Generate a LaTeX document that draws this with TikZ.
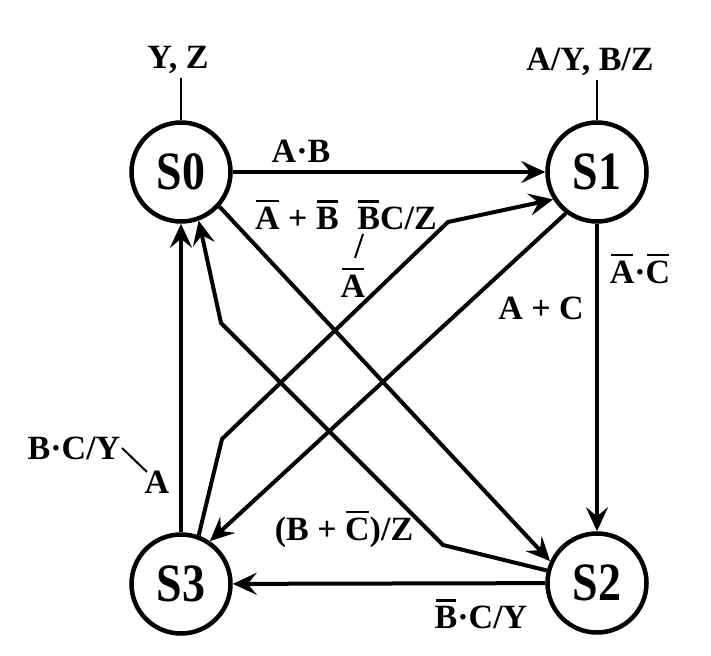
\documentclass[tikz,border=0pt]{standalone}
\usepackage{fontspec}
\setmainfont{Liberation Serif}
\newfontfamily\statefont{Liberation Serif}[FakeStretch=0.85]
\usetikzlibrary{arrows.meta}
\newcommand\ob[1]{\leavevmode\setbox0\hbox{#1}\rlap{\kern0.05\wd0\rule[\dimexpr\ht0+0.12em\relax]{0.9\wd0}{0.08em}}\box0\relax}
\tikzset{
  statenode/.style={circle,draw,line width=4.5pt,minimum size=99pt,inner sep=0pt,
    font=\statefont\bfseries\fontsize{54}{60}\selectfont},
  lbl/.style={anchor=base,inner sep=0pt,font=\bfseries\fontsize{34}{40}\selectfont},
  edge/.style={line width=4pt,-{Stealth[length=24pt,width=22pt,inset=9pt]},line join=miter},
  stub/.style={line width=2pt}
}
\begin{document}
\begin{tikzpicture}[x=1pt,y=-1pt]
\useasboundingbox (0,0) rectangle (711,655);
\node[statenode] (S0) at (181,172) {S0};
\node[statenode] (S1) at (597,172) {S1};
\node[statenode] (S2) at (597,583) {S2};
\node[statenode] (S3) at (181,584) {S3};
% output labels
\node[lbl] (o0) at (178,69) {Y, Z};
\node[lbl] (o1) at (590,71) {A/Y, B/Z};
\coordinate (o0b) at (181,78);
\coordinate (o1b) at (597,80);
\draw[stub] (o0b) -- (S0.north);
\draw[stub] (o1b) -- (S1.north);
% bends
\coordinate (b1) at (222,439);
\coordinate (b2) at (448,222);
\coordinate (b3) at (443,545);
\coordinate (b4) at (221,323);
% edges
\draw[edge] (S0) -- (S1);
\draw[edge] (S0.-42) -- (S2.155);
\draw[edge] (S1) -- (S2);
\draw[edge] (S1.233) -- (S3.56);
\draw[edge] (S3.70) -- (b1) -- (b2) -- (S1.212);
\draw[edge] (S2.166) -- (b3) -- (b4) -- (S0.-70);
\draw[edge] (S2) -- (S3);
\draw[edge] (S3) -- (S0);
% edge labels
\node[lbl] (l1) at (301,162) {A·B};
\node[lbl] (l2) at (297,229) {\ob{A} + \ob{B}};
\node[lbl] (l3) at (397,229) {\ob{B}C/Z};
\node[lbl] (l4) at (353,297) {\ob{A}};
\coordinate (s1a) at (363,234);
\coordinate (s1b) at (355,258);
\draw[stub] (s1a) -- (s1b);
\node[lbl] (l5) at (541,319) {A + C};
\node[lbl] (l6) at (640,283) {\ob{A}·\ob{C}};
\node[lbl] (l7) at (74,459) {B·C/Y};
\coordinate (s2a) at (122,448);
\coordinate (s2b) at (147,472);
\draw[stub] (s2a) -- (s2b);
\node[lbl] (l8) at (157,493) {A};
\node[lbl] (l9) at (344,540) {(B + \ob{C})/Z};
\node[lbl] (l10) at (481,628) {\ob{B}·C/Y};
\end{tikzpicture}
\end{document}
